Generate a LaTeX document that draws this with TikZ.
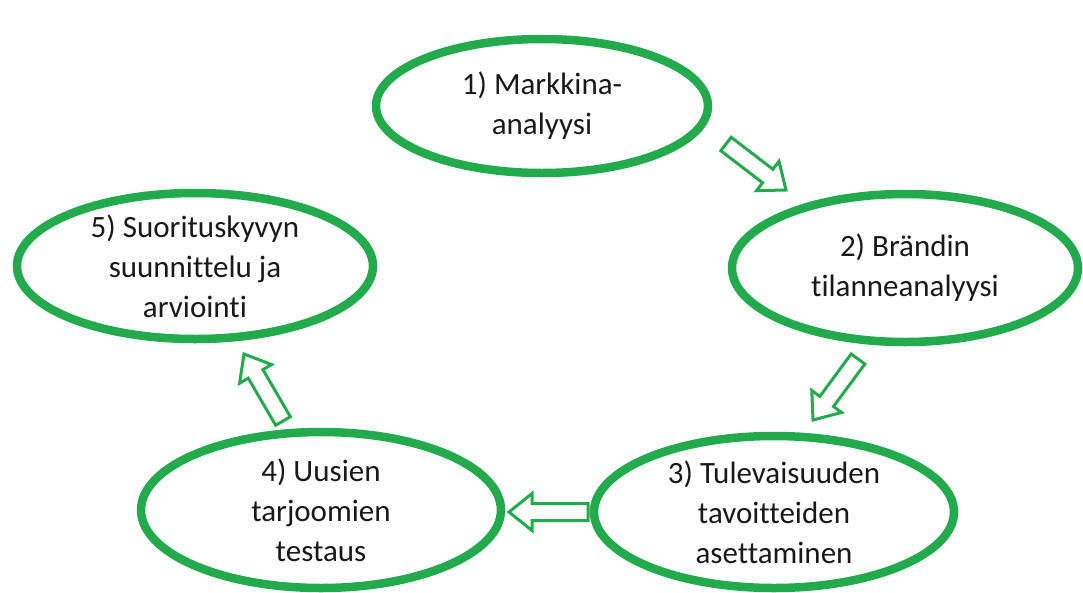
\documentclass[tikz,border=0pt]{standalone}
\usepackage{fontspec}
\setmainfont{Carlito}[Ligatures=NoCommon]
\usetikzlibrary{shapes.geometric,calc}
\definecolor{lgreen}{RGB}{34,170,76}
\definecolor{txt}{RGB}{25,25,25}
\tikzset{
  stage/.style={ellipse, draw=lgreen, line width=8.5pt, fill=white, inner sep=0pt,
    align=center, text=txt, font=\fontsize{31}{40}\selectfont},
  barrow/.style={draw=lgreen, line width=3pt, fill=white, line join=miter}
}
\newcommand\blockarrow[2]{%
  \path[barrow] let \p1=($(#2)-(#1)$), \n1={atan2(\y1,\x1)}, \n2={veclen(\x1,\y1)} in
    [shift={(#1)}, rotate=\n1]
    (0,-8.5) -- ({\n2-23},-8.5) -- ({\n2-23},-18.5) -- ({\n2},0) --
    ({\n2-23},18.5) -- ({\n2-23},8.5) -- (0,8.5) -- cycle;
}
\begin{document}
\begin{tikzpicture}[x=1pt,y=-1pt]
\useasboundingbox (0,0) rectangle (1083,592);
\node[stage, minimum width=332pt, minimum height=134pt] (s1) at (542,106) {1) Markkina-\\analyysi};
\node[stage, minimum width=346pt, minimum height=148pt] (s2) at (905,268) {2) Brändin\\tilanneanalyysi};
\node[stage, minimum width=360pt, minimum height=152pt] (s3) at (774,512) {3) Tulevaisuuden\\tavoitteiden\\asettaminen};
\node[stage, minimum width=360pt, minimum height=156pt] (s4) at (321,510) {4) Uusien\\tarjoomien\\testaus};
\node[stage, minimum width=356pt, minimum height=146pt] (s5) at (195,266) {5) Suorituskyvyn\\suunnittelu ja\\arviointi};
\coordinate (a1t) at (726,144); \coordinate (a1h) at (786,190);
\coordinate (a2t) at (858,359); \coordinate (a2h) at (813,420);
\coordinate (a3t) at (588,512); \coordinate (a3h) at (509,512);
\coordinate (a4t) at (283,421); \coordinate (a4h) at (244,354);
\blockarrow{a1t}{a1h}
\blockarrow{a2t}{a2h}
\blockarrow{a3t}{a3h}
\blockarrow{a4t}{a4h}
\end{tikzpicture}
\end{document}
